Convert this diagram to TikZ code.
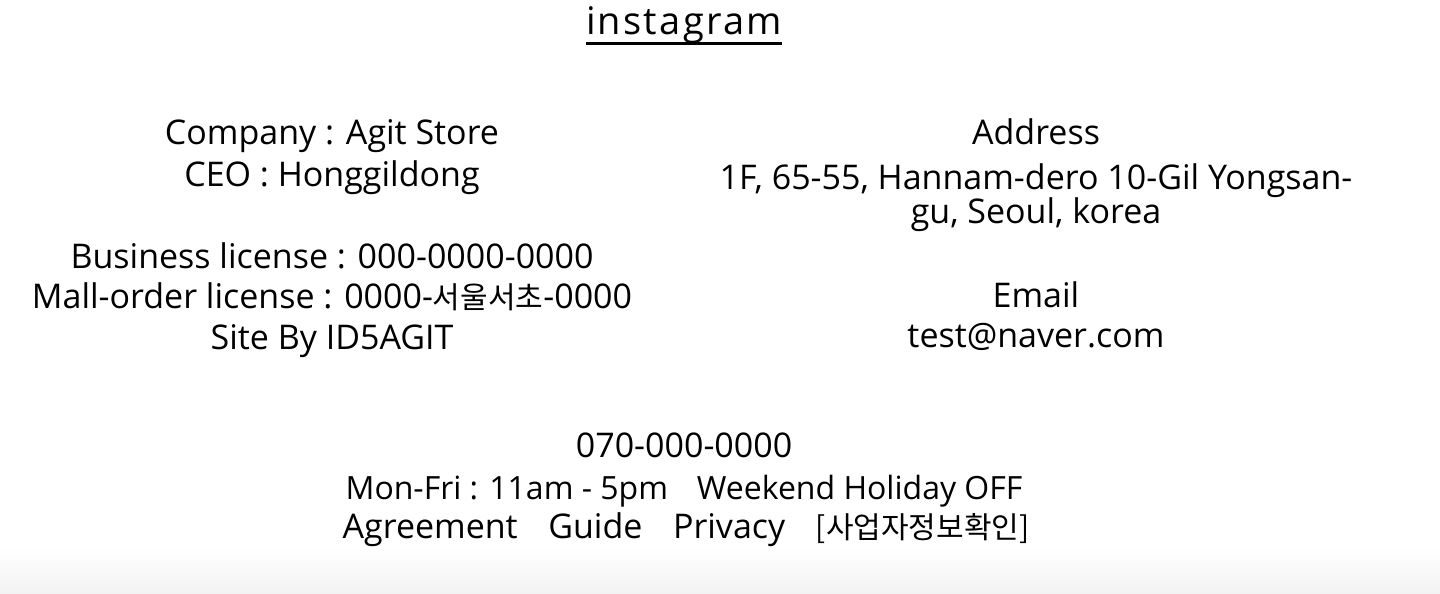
\documentclass[tikz,border=0pt]{standalone}
\usepackage{fontspec}
\setmainfont{Open Sans}
\newfontfamily\cjk{Noto Sans CJK KR}
\newfontfamily\titlefont[LetterSpace=6]{Open Sans}
\tikzset{
  footline/.style={inner sep=0pt, anchor=base, font=\fontsize{34}{40}\selectfont},
}
\newcommand{\kr}[2][30]{{\cjk\fontsize{#1}{40}\selectfont #2}}

\begin{document}
\begin{tikzpicture}[x=1pt, y=-1pt]
    \useasboundingbox (0,0) rectangle (1440,594);
    \fill[white] (0,0) rectangle (1440,594);
    \shade[top color=white, bottom color=black!5] (0,548) rectangle (1440,594);

    % title
    \node[footline, font=\titlefont\fontsize{38}{40}\selectfont] (insta) at (684,35) {instagram};
    \draw[line width=3pt] ([yshift=-9pt]insta.base west) -- ([yshift=-9pt]insta.base east);

    % company column
    \node[footline] (company) at (332,144) {Company : Agit Store};
    \node[footline] (ceo) at (332,186) {CEO : Honggildong};
    \node[footline] (business) at (332,268) {Business license : 000-0000-0000};
    \node[footline] (mallorder) at (332,308) {Mall-order license : 0000-\kr{서울서초}-0000};
    \node[footline] (siteby) at (332,349) {Site By ID5AGIT};

    % address column
    \node[footline] (address) at (1036,144) {Address};
    \node[footline] (addrone) at (1036,189) {1F, 65-55, Hannam-dero 10-Gil Yongsan-};
    \node[footline] (addrtwo) at (1036,223) {gu, Seoul, korea};
    \node[footline] (email) at (1036,307) {Email};
    \node[footline] (mail) at (1036,347) {test@naver.com};

    % contact
    \node[footline] (phone) at (684,457) {070-000-0000};
    \node[footline, font=\fontsize{32}{40}\selectfont] (hours) at (684,499) {Mon-Fri : 11am - 5pm\hspace{0.9em}Weekend Holiday OFF};
    \node[footline] (links) at (686,538) {Agreement\hspace{0.9em}Guide\hspace{0.9em}Privacy\hspace{0.9em}\kr{[사업자정보확인]}};
\end{tikzpicture}
\end{document}
